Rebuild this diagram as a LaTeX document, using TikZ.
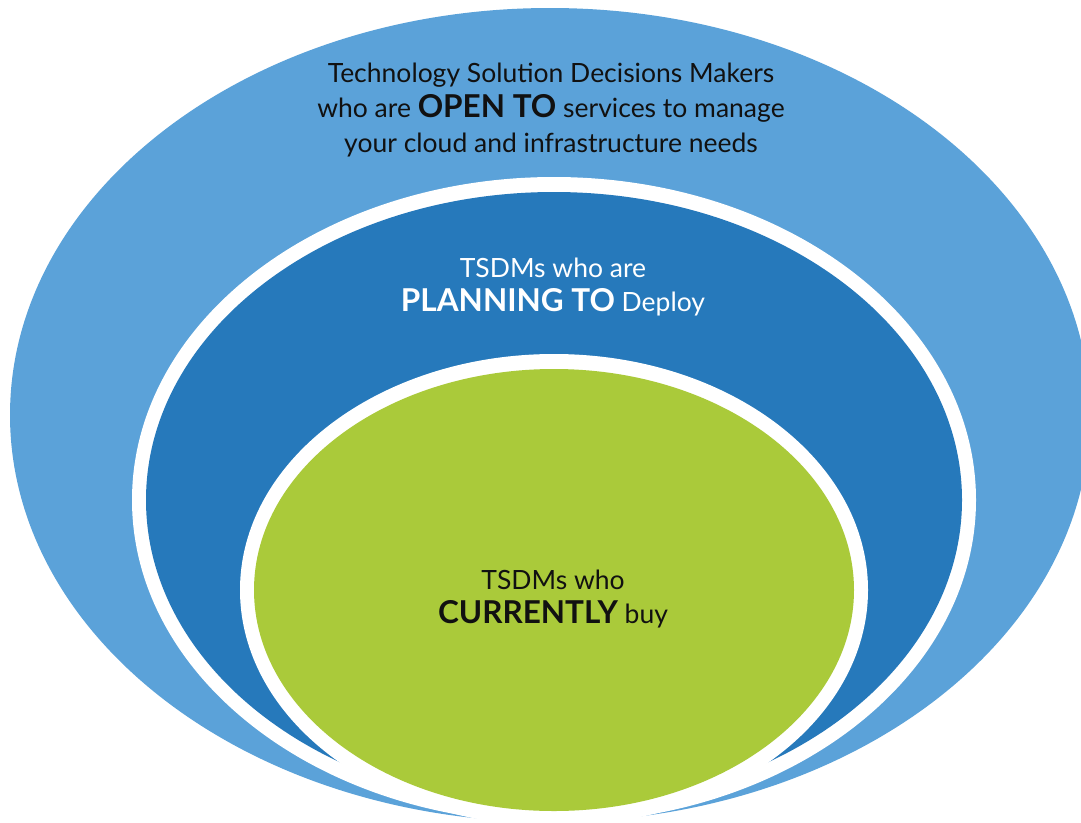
\documentclass[tikz,border=0pt]{standalone}
\usepackage{fontspec}
\setmainfont{Lato}
\definecolor{outerblue}{HTML}{5BA2D9}
\definecolor{midblue}{HTML}{2679BB}
\definecolor{innergreen}{HTML}{AACA3A}
\definecolor{darktext}{HTML}{111111}
\begin{document}
\begin{tikzpicture}[x=1pt,y=-1pt,
  ringtext/.style={align=center,font=\fontsize{26.5}{35}\selectfont}]
\newcommand{\hl}[1]{{\fontsize{31.5}{35}\selectfont\bfseries #1}}
\useasboundingbox (0,0) rectangle (1081,822);
\fill[white] (0,0) rectangle (1081,822);
\begin{scope}
  \clip (0,0) rectangle (1081,822);
  % outer audience
  \fill[outerblue] (550,415) ellipse [x radius=540pt, y radius=407pt];
  % planning ring with white rim
  \fill[white] (554,500) ellipse [x radius=422pt, y radius=323pt];
  \fill[midblue] (554,500) ellipse [x radius=408pt, y radius=308pt];
  % current buyers with white rim
  \fill[white] (554,590) ellipse [x radius=314pt, y radius=236pt];
  \fill[innergreen] (554,590) ellipse [x radius=300pt, y radius=221pt];
\end{scope}
\node[ringtext,text=darktext] (open) at (551,110)
  {Technology Solution Decisions Makers\\
   who are \hl{OPEN TO} services to manage\\
   your cloud and infrastructure needs};
\node[ringtext,text=white,font=\fontsize{26.5}{34}\selectfont] (plan) at (553,287)
  {TSDMs who are\\ \hl{PLANNING TO} Deploy};
\node[ringtext,text=darktext,font=\fontsize{26.5}{34}\selectfont] (buy) at (553,599)
  {TSDMs who\\ \hl{CURRENTLY} buy};
\end{tikzpicture}
\end{document}
